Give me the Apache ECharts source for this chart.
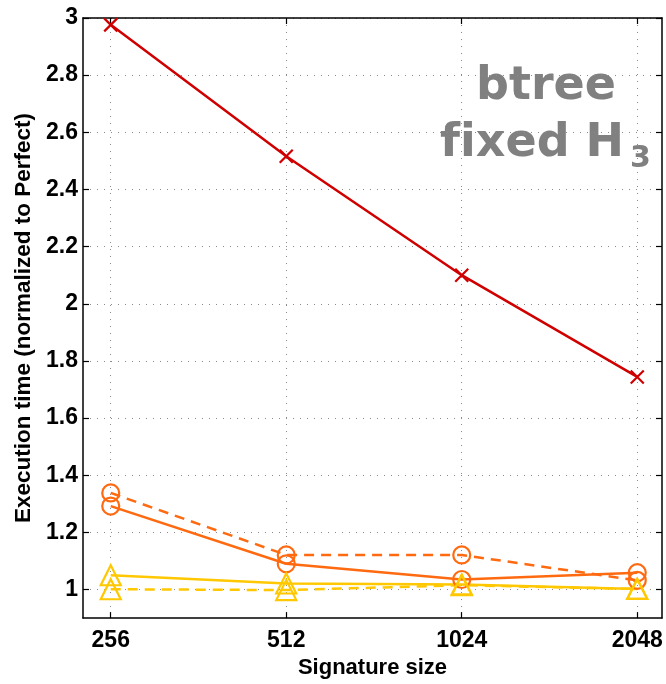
<!DOCTYPE html>
<html>
<head>
<meta charset="utf-8">
<script src="https://cdn.jsdelivr.net/npm/echarts@6/dist/echarts.min.js"></script>
<style>
  html, body { margin: 0; padding: 0; background: #fff; }
  #chart { width: 666px; height: 684px; }
</style>
</head>
<body>
<div id="chart"></div>
<script>
// signature sizes (x axis, log2 spaced)
const sizes = [256, 512, 1024, 2048];
const sizeLabels = ['256', '512', '1024', '2048'];

// y ticks
const yTicks = [1, 1.2, 1.4, 1.6, 1.8, 2, 2.2, 2.4, 2.6, 2.8, 3];
const yTickLabels = ['1', '1.2', '1.4', '1.6', '1.8', '2', '2.2', '2.4', '2.6', '2.8', '3'];

// series values (normalized to Perfect)
const redCross = [2.976, 2.516, 2.100, 1.744];
const orangeSolid = [1.292, 1.090, 1.035, 1.059];
const orangeDashed = [1.338, 1.121, 1.121, 1.032];
const yellowSolid = [1.050, 1.021, 1.018, 1.002];
const yellowDashed = [1.001, 0.998, 1.015, 1.002];

const xPos = sizes.map(s => Math.log2(s));
const pts = vals => vals.map((v, i) => [xPos[i], v]);

const FONT = '"Liberation Sans", Arial, Helvetica, sans-serif';
const CROSS = 'path://M0,0L10,10M10,0L0,10';

const chart = echarts.init(document.getElementById('chart'));

const tickStyle = { show: true, inside: true, length: 6, lineStyle: { color: '#000', width: 1.2 } };
const axisLine = { show: true, lineStyle: { color: '#000', width: 1.5 } };
const gridDots = { show: true, lineStyle: { color: '#8a8a8a', width: 1, type: [1, 6] } };

function lineSeries(name, vals, color, symbol, size, dashed, width) {
    return {
        name: name,
        type: 'line',
        data: pts(vals),
        symbol: symbol,
        symbolSize: size,
        showAllSymbol: true,
        lineStyle: { color: color, width: width || 2.5, type: dashed ? [10, 7] : 'solid' },
        itemStyle: { color: 'rgba(0,0,0,0)', borderColor: color, borderWidth: 2.2 },
        emphasis: { disabled: true },
        animation: false
    };
}

chart.setOption({
    backgroundColor: '#fff',
    animation: false,
    grid: { left: 83, right: 4, top: 18, bottom: 59 },

    xAxis: [{
        type: 'value',
        position: 'bottom',
        min: 7.842,
        max: 11.141,
        name: 'Signature size',
        nameLocation: 'middle',
        nameGap: 30,
        nameTextStyle: { color: '#000', fontFamily: FONT, fontWeight: 'bold', fontSize: 22 },
        axisLine: axisLine,
        axisTick: Object.assign({ customValues: xPos }, tickStyle),
        axisLabel: {
            customValues: xPos,
            color: '#000', fontFamily: FONT, fontWeight: 'bold', fontSize: 23, margin: 11,
            formatter: v => sizeLabels[xPos.indexOf(v)]
        },
        splitLine: gridDots
    }, {
        type: 'value',
        position: 'top',
        min: 7.842,
        max: 11.141,
        axisLine: axisLine,
        axisTick: Object.assign({ customValues: xPos }, tickStyle),
        axisLabel: { show: false },
        splitLine: { show: false }
    }],

    yAxis: [{
        type: 'value',
        position: 'left',
        min: 0.9,
        max: 3,
        name: 'Execution time (normalized to Perfect)',
        nameLocation: 'middle',
        nameGap: 48,
        nameTextStyle: { color: '#000', fontFamily: FONT, fontWeight: 'bold', fontSize: 22.5 },
        axisLine: axisLine,
        axisTick: Object.assign({ customValues: yTicks }, tickStyle),
        axisLabel: {
            customValues: yTicks,
            color: '#000', fontFamily: FONT, fontWeight: 'bold', fontSize: 23, margin: 5,
            formatter: v => yTickLabels[yTicks.indexOf(v)]
        },
        splitLine: gridDots
    }, {
        type: 'value',
        position: 'right',
        min: 0.9,
        max: 3,
        axisLine: axisLine,
        axisTick: Object.assign({ customValues: yTicks }, tickStyle),
        axisLabel: { show: false },
        splitLine: { show: false }
    }],

    series: [
        lineSeries('cross', redCross, '#d00000', CROSS, 13, false, 2.5),
        lineSeries('circle solid', orangeSolid, '#ff6a10', 'circle', 17, false, 2.5),
        lineSeries('circle dashed', orangeDashed, '#ff6a10', 'circle', 17, true, 2.5),
        lineSeries('triangle solid', yellowSolid, '#ffc800', 'triangle', 20, false, 2.5),
        lineSeries('triangle dashed', yellowDashed, '#ffc800', 'triangle', 20, true, 2.5)
    ],

    graphic: [
        {
            type: 'text', left: 476, top: 64, silent: true,
            style: { text: 'btree', fill: '#808080', font: 'bold 46px "DejaVu Sans"' }
        },
        {
            type: 'text', left: 440, top: 121, silent: true,
            style: { text: 'f\u200Cixed H', fill: '#808080', font: 'bold 46px "DejaVu Sans"' }
        },
        {
            type: 'text', left: 630, top: 144, silent: true,
            style: { text: '3', fill: '#808080', font: 'bold 30px "DejaVu Sans"' }
        }
    ]
});
</script>
</body>
</html>
